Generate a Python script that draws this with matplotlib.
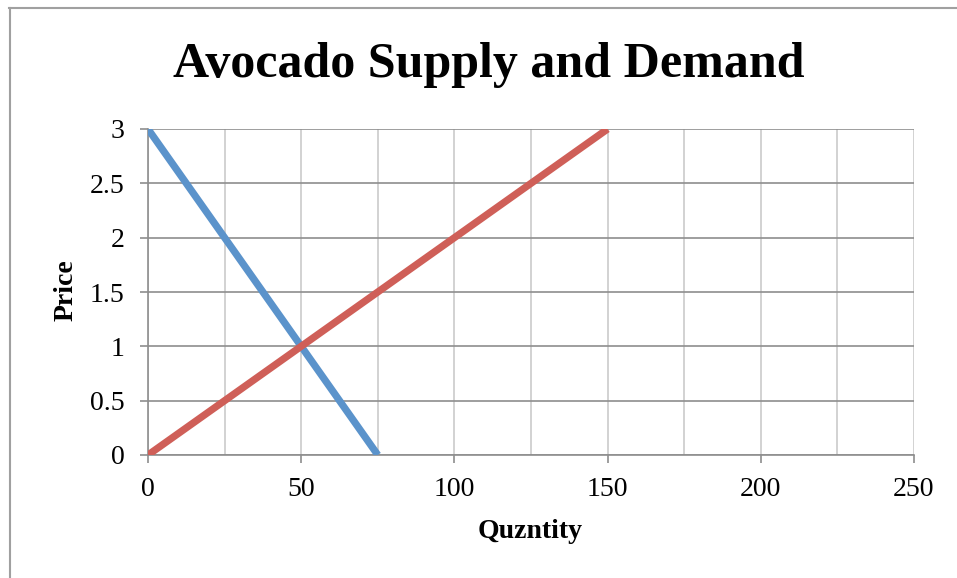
import matplotlib.pyplot as plt
from matplotlib.lines import Line2D

# supply / demand schedules
demand_qty = [0, 25, 50, 75]
demand_price = [3, 2, 1, 0]
supply_qty = [0, 50, 100, 150]
supply_price = [0, 1, 2, 3]

x_ticks = [0, 50, 100, 150, 200, 250]
y_ticks = [0, 0.5, 1, 1.5, 2, 2.5, 3]
y_labels = ['0', '0.5', '1', '1.5', '2', '2.5', '3']

plt.rcParams['font.family'] = ['Liberation Serif', 'DejaVu Serif']

fig = plt.figure(figsize=(9.57, 5.78), dpi=100)
ax = fig.add_axes([148 / 957, 1 - 455 / 578, (914 - 148) / 957, (455 - 129) / 578])

ax.plot(demand_qty, demand_price, color='#5b93cb', lw=5.2, solid_capstyle='butt', zorder=3)
ax.plot(supply_qty, supply_price, color='#cf5f58', lw=5.2, solid_capstyle='butt', zorder=3)

ax.set_xlim(0, 250)
ax.set_ylim(0, 3)
ax.set_xticks(x_ticks)
ax.set_xticks(range(0, 251, 25), minor=True)
ax.set_yticks(y_ticks)
ax.set_yticklabels(y_labels)

ax.grid(axis='y', which='major', color='#8e8e8e', lw=1.2)
ax.grid(axis='x', which='both', color='#cbcbcb', lw=1.2)
ax.set_axisbelow(True)

for s in ['top', 'right']:
    ax.spines[s].set_visible(False)
for s in ['left', 'bottom']:
    ax.spines[s].set_color('#8e8e8e')
    ax.spines[s].set_linewidth(1.2)

ax.tick_params(axis='both', which='major', direction='out', length=6, width=1.2,
               color='#8e8e8e', labelsize=20)
ax.tick_params(axis='y', which='major', pad=11)
ax.tick_params(axis='x', which='major', pad=10)
ax.tick_params(axis='x', which='minor', length=0)

ax.set_xlabel('Quzntity', fontsize=20, fontweight='bold', va='center')
ax.set_ylabel('Price', fontsize=20, fontweight='bold', va='center')
ax.xaxis.set_label_coords(0.5 + (530 - 531) / 766, (455 - 531) / 326)
ax.yaxis.set_label_coords((66 - 148) / 766, 0.5 + (292 - 290) / 326)

fig.text(489 / 957, 1 - 65 / 578, 'Avocado Supply and Demand', fontsize=36,
         fontweight='bold', ha='center', va='center')

# chart frame
fig.add_artist(Line2D([9.5 / 957, 9.5 / 957], [0, 1 - 7.5 / 578], color='#a0a0a0', lw=1.5))
fig.add_artist(Line2D([9 / 957, 1], [1 - 7.5 / 578, 1 - 7.5 / 578], color='#a0a0a0', lw=1.5))

fig.savefig('out.png', dpi=100)
